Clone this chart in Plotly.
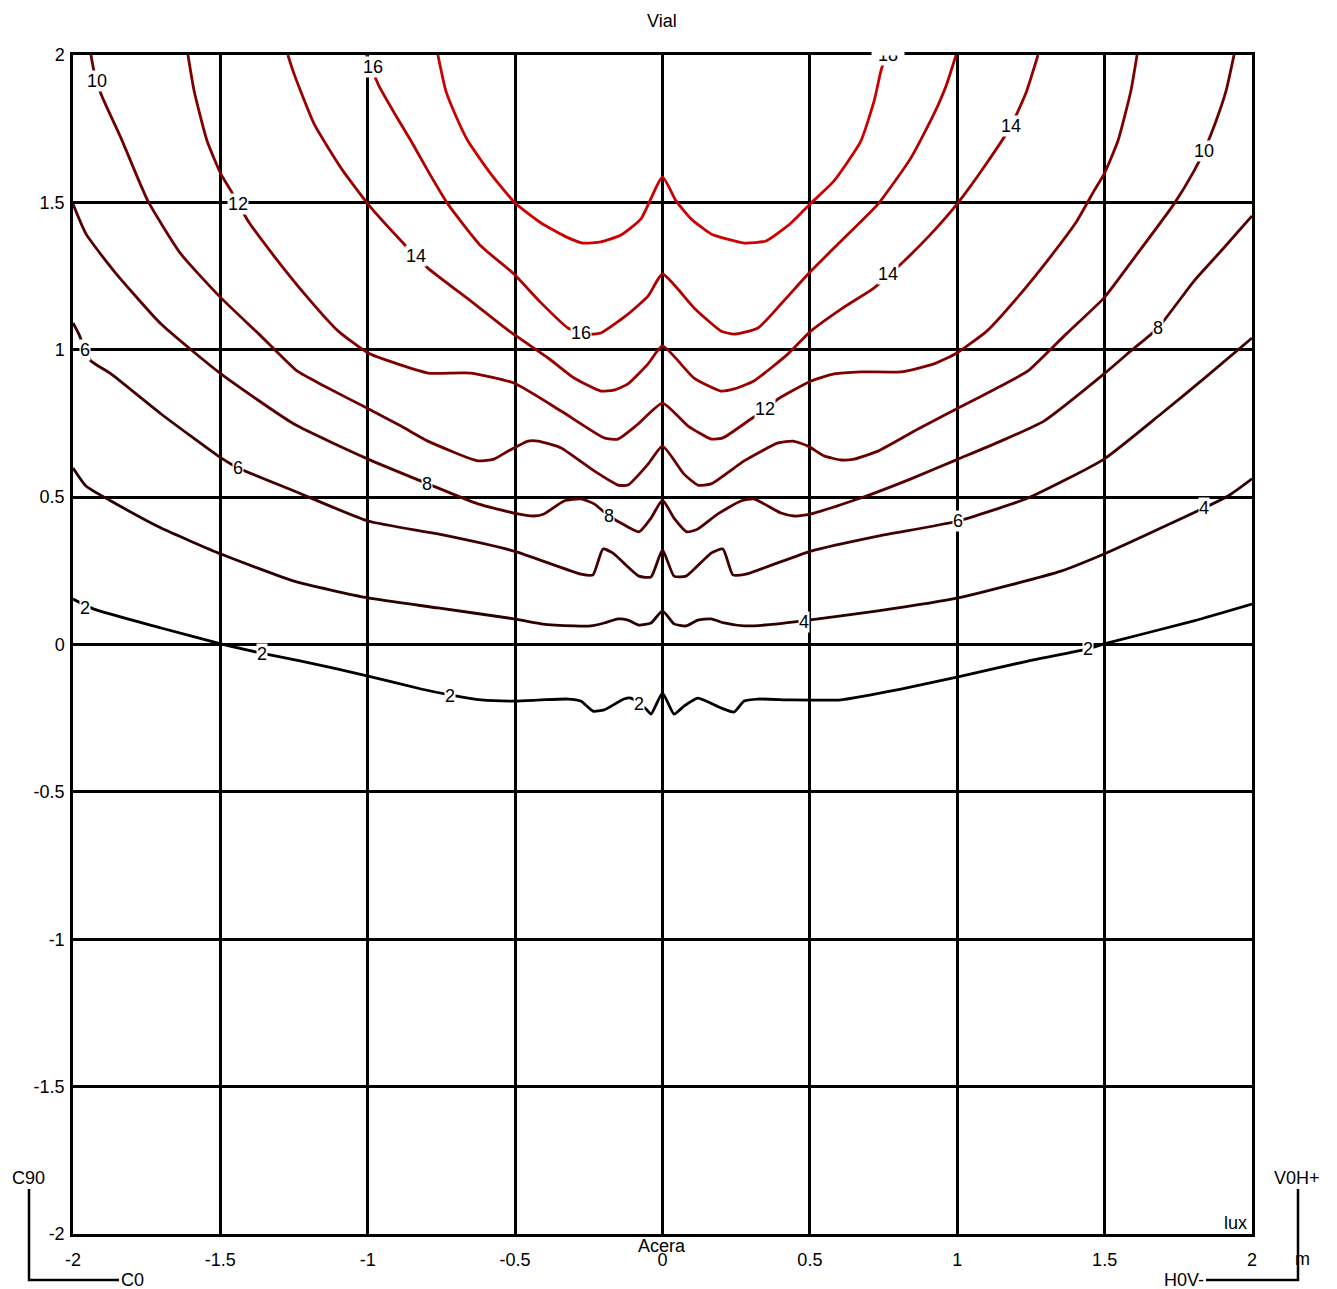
import plotly.graph_objects as go

# isolux curves (x, y in m), one pair of lists per level (lux)
x_2 = [-2.000, -1.929, -1.701, -1.498, -1.362, -1.226, -0.999, -0.819, -0.721, -0.616, -0.500, -0.412, -0.321,
       -0.277, -0.236, -0.198, -0.131, -0.107, -0.056, -0.039, 0.000, 0.039, 0.073, 0.120, 0.198, 0.243, 0.277,
       0.324, 0.436, 0.606, 0.707, 0.809, 1.003, 1.240, 1.444, 1.498, 1.803, 2.000]
y_2 = [0.154, 0.120, 0.056, 0.002, -0.029, -0.056, -0.107, -0.151, -0.171, -0.188, -0.192, -0.188, -0.185,
       -0.192, -0.226, -0.222, -0.185, -0.182, -0.219, -0.236, -0.165, -0.236, -0.209, -0.182, -0.215, -0.229,
       -0.192, -0.185, -0.188, -0.188, -0.171, -0.151, -0.110, -0.056, -0.015, 0.002, 0.080, 0.137]

x_4 = [-2.000, -1.956, -1.871, -1.701, -1.498, -1.250, -0.999, -0.762, -0.504, -0.412, -0.300, -0.243, -0.198,
       -0.151, -0.117, -0.080, -0.039, 0.000, 0.039, 0.080, 0.120, 0.165, 0.209, 0.277, 0.392, 0.528, 0.731,
       1.003, 1.352, 1.498, 1.691, 1.919, 2.000]
y_4 = [0.599, 0.538, 0.487, 0.395, 0.307, 0.215, 0.158, 0.124, 0.087, 0.070, 0.063, 0.063, 0.073,
       0.087, 0.083, 0.066, 0.073, 0.114, 0.070, 0.063, 0.083, 0.087, 0.073, 0.063, 0.070, 0.087, 0.114,
       0.158, 0.249, 0.307, 0.395, 0.504, 0.562]

x_6 = [-2.000, -1.980, -1.959, -1.939, -1.871, -1.701, -1.498, -1.440, -1.250, -0.999, -0.762, -0.504, -0.277,
       -0.236, -0.202, -0.168, -0.080, -0.039, 0.000, 0.039, 0.080, 0.165, 0.205, 0.239, 0.283, 0.504, 0.731,
       1.003, 1.240, 1.498, 1.691, 1.844, 2.000]
y_6 = [1.091, 1.053, 0.999, 0.962, 0.918, 0.782, 0.633, 0.599, 0.521, 0.419, 0.375, 0.317, 0.239,
       0.236, 0.324, 0.310, 0.232, 0.229, 0.321, 0.232, 0.232, 0.310, 0.324, 0.236, 0.239, 0.317, 0.368,
       0.419, 0.497, 0.629, 0.782, 0.908, 1.040]

x_8 = [-2.000, -1.956, -1.861, -1.701, -1.498, -1.250, -0.999, -0.796, -0.626, -0.504, -0.436, -0.402, -0.334,
       -0.277, -0.232, -0.182, -0.141, -0.080, -0.039, 0.000, 0.039, 0.083, 0.120, 0.188, 0.266, 0.310, 0.402,
       0.446, 0.504, 0.673, 0.843, 1.003, 1.148, 1.294, 1.498, 1.589, 1.681, 1.803, 1.895, 2.000]
y_8 = [1.494, 1.393, 1.267, 1.087, 0.918, 0.748, 0.629, 0.545, 0.477, 0.446, 0.436, 0.443, 0.487,
       0.494, 0.477, 0.436, 0.412, 0.382, 0.429, 0.490, 0.429, 0.382, 0.392, 0.443, 0.487, 0.494, 0.446,
       0.436, 0.443, 0.497, 0.562, 0.629, 0.690, 0.758, 0.918, 0.996, 1.074, 1.233, 1.335, 1.454]

x_10 = [-1.939, -1.929, -1.905, -1.837, -1.746, -1.634, -1.498, -1.369, -1.240, -1.148, -1.003, -0.887, -0.796,
        -0.626, -0.572, -0.524, -0.456, -0.422, -0.344, -0.232, -0.151, -0.117, -0.049, 0.000, 0.073, 0.120,
        0.165, 0.277, 0.392, 0.443, 0.494, 0.548, 0.606, 0.650, 0.731, 0.867, 1.003, 1.148, 1.240, 1.369,
        1.498, 1.600, 1.735, 1.803, 1.837, 1.878, 1.912, 1.939]
y_10 = [2.000, 1.946, 1.868, 1.718, 1.505, 1.325, 1.176, 1.053, 0.928, 0.877, 0.802, 0.741, 0.690,
        0.623, 0.629, 0.656, 0.690, 0.690, 0.667, 0.589, 0.541, 0.541, 0.612, 0.673, 0.578, 0.541,
        0.545, 0.623, 0.684, 0.690, 0.673, 0.640, 0.626, 0.629, 0.656, 0.731, 0.802, 0.877, 0.928, 1.053,
        1.176, 1.311, 1.494, 1.606, 1.674, 1.776, 1.878, 2.000]

x_12 = [-1.610, -1.589, -1.545, -1.498, -1.464, -1.406, -1.318, -1.203, -1.101, -0.999, -0.887, -0.796, -0.650,
        -0.504, -0.344, -0.198, -0.151, -0.083, 0.000, 0.087, 0.165, 0.205, 0.300, 0.351, 0.392, 0.504, 0.582,
        0.673, 0.809, 0.921, 0.999, 1.101, 1.203, 1.318, 1.406, 1.464, 1.498, 1.545, 1.589, 1.610]
y_12 = [2.000, 1.878, 1.708, 1.596, 1.539, 1.437, 1.318, 1.176, 1.064, 0.989, 0.948, 0.921, 0.921,
        0.887, 0.792, 0.701, 0.697, 0.748, 0.819, 0.741, 0.697, 0.701, 0.765, 0.799, 0.833, 0.894, 0.918,
        0.925, 0.925, 0.952, 0.989, 1.064, 1.176, 1.318, 1.437, 1.539, 1.596, 1.708, 1.878, 2.000]

x_14 = [-1.271, -1.250, -1.182, -1.091, -0.999, -0.877, -0.796, -0.650, -0.521, -0.388, -0.300, -0.209, -0.165,
        -0.117, -0.049, 0.000, 0.107, 0.198, 0.243, 0.310, 0.426, 0.504, 0.606, 0.718, 0.809, 0.911, 0.999,
        1.098, 1.182, 1.233, 1.274]
y_14 = [2.000, 1.936, 1.766, 1.617, 1.494, 1.359, 1.277, 1.165, 1.064, 0.972, 0.904, 0.860, 0.863,
        0.884, 0.952, 1.013, 0.904, 0.860, 0.867, 0.894, 0.986, 1.064, 1.138, 1.210, 1.291, 1.393, 1.494,
        1.630, 1.759, 1.871, 2.000]

x_16 = [-1.005, -0.962, -0.904, -0.853, -0.792, -0.728, -0.616, -0.504, -0.412, -0.321, -0.260, -0.209, -0.117,
        -0.049, 0.000, 0.107, 0.198, 0.243, 0.324, 0.402, 0.494, 0.606, 0.731, 0.843, 0.921, 0.962, 0.996]
y_16 = [2.000, 1.895, 1.793, 1.708, 1.600, 1.494, 1.352, 1.257, 1.159, 1.074, 1.053, 1.057, 1.121,
        1.182, 1.257, 1.142, 1.064, 1.053, 1.074, 1.155, 1.257, 1.369, 1.494, 1.651, 1.800, 1.895, 2.000]

x_18 = [-0.762, -0.735, -0.701, -0.660, -0.582, -0.500, -0.412, -0.327, -0.270, -0.209, -0.141, -0.073, 0.000,
        0.046, 0.097, 0.165, 0.277, 0.351, 0.436, 0.500, 0.582, 0.673, 0.718, 0.741, 0.758]
y_18 = [2.000, 1.878, 1.793, 1.708, 1.596, 1.498, 1.430, 1.383, 1.362, 1.366, 1.389, 1.444, 1.586,
        1.505, 1.444, 1.393, 1.362, 1.369, 1.430, 1.494, 1.573, 1.708, 1.844, 1.946, 2.000]

levels = [2, 4, 6, 8, 10, 12, 14, 16, 18]
curves = {2: (x_2, y_2), 4: (x_4, y_4), 6: (x_6, y_6), 8: (x_8, y_8), 10: (x_10, y_10),
          12: (x_12, y_12), 14: (x_14, y_14), 16: (x_16, y_16), 18: (x_18, y_18)}

# inline labels on the curves
label_text = ["10", "16", "18", "14", "10", "12", "14", "14", "8", "16", "6", "12", "6", "8", "8", "4", "6",
              "2", "4", "2", "2", "2", "2"]
label_x = [-1.919, -0.982, 0.765, 1.182, 1.837, -1.440, -0.836, 0.765, 1.681, -0.277, -1.959, 0.348, -1.440,
           -0.799, -0.182, 1.837, 1.003, -1.959, 0.480, -1.359, 1.444, -0.721, -0.080]
label_y = [1.912, 1.959, 1.999, 1.759, 1.674, 1.494, 1.318, 1.257, 1.074, 1.057, 0.999, 0.799, 0.599,
           0.545, 0.436, 0.463, 0.419, 0.124, 0.076, -0.032, -0.015, -0.175, -0.202]

tick_vals = [-2, -1.5, -1, -0.5, 0, 0.5, 1, 1.5, 2]
tick_text = ["-2", "-1.5", "-1", "-0.5", "0", "0.5", "1", "1.5", "2"]

line_colors = {2: "#000000", 4: "#2a0000", 6: "#400000", 8: "#550000", 10: "#6a0000",
               12: "#800000", 14: "#990000", 16: "#b00000", 18: "#cc0000"}

FONT = "Liberation Sans, Arial, sans-serif"
W, H = 1337, 1289
# the page adds ~7px of body margin, so the plot box is pulled up/left to land on 72..1251 / 54..1233
OFF = 7
BOX_L, BOX_T, BOX = 72, 54, 1179
ML, MT = BOX_L - OFF, BOX_T - OFF
MR, MB = W - ML - BOX, H - MT - BOX


def px(x, y):
    # page pixel -> paper coordinates
    return (x - BOX_L) / BOX, (BOX_T + BOX - y) / BOX


fig = go.Figure()
for lv in levels:
    xs, ys = curves[lv]
    fig.add_trace(go.Scatter(x=xs, y=ys, mode="lines", name=str(lv),
                             line=dict(color=line_colors[lv], width=2.8, shape="spline", smoothing=0.5),
                             hoverinfo="skip"))

for t, lx, ly in zip(label_text, label_x, label_y):
    fig.add_annotation(x=lx, y=ly, text=t, showarrow=False, bgcolor="white", borderpad=0,
                       xanchor="center", yanchor="middle", font=dict(size=18, color="black", family=FONT))

# the "18" label is cut by the top of the frame in the original
xp, yp = px(887, 41)
fig.add_annotation(x=xp, y=yp, xref="paper", yref="paper", text=" ", showarrow=False, width=30, height=24,
                   bgcolor="white", xanchor="center", yanchor="middle")

axis = dict(range=[-2, 2], tickvals=tick_vals, ticktext=tick_text, showgrid=True, gridcolor="black",
            gridwidth=2.5, zeroline=False, showline=True, linecolor="black", linewidth=2.5, mirror=True,
            ticks="", tickfont=dict(size=18, color="black", family=FONT), fixedrange=True)
fig.update_xaxes(**axis, ticklabelstandoff=8)
fig.update_yaxes(**axis, ticklabelstandoff=2)

# corner texts and the orientation marks
texts = [("Vial", 661, 20), ("Acera", 661, 1245), ("m", 1301, 1258), ("lux", 1234, 1222),
         ("C90", 27, 1177), ("C0", 131, 1279), ("V0H+", 1296, 1177), ("H0V-", 1183, 1279)]
for t, x, y in texts:
    xp, yp = px(x, y)
    fig.add_annotation(x=xp, y=yp, xref="paper", yref="paper", text=t, showarrow=False,
                       xanchor="center", yanchor="middle", font=dict(size=18, color="black", family=FONT))

for pts in [[(28, 1188), (28, 1279), (118, 1279)], [(1297, 1188), (1297, 1279), (1205, 1279)]]:
    pp = [px(*p) for p in pts]
    path = "M {} {} L {} {} L {} {}".format(pp[0][0], pp[0][1], pp[1][0], pp[1][1], pp[2][0], pp[2][1])
    fig.add_shape(type="path", path=path, xref="paper", yref="paper", line=dict(color="black", width=2.5))

fig.update_layout(width=W, height=H, margin=dict(l=ML, r=MR, t=MT, b=MB, autoexpand=False), showlegend=False,
                  paper_bgcolor="white", plot_bgcolor="white", font=dict(family=FONT, color="black"))

fig.write_html("out.html")
